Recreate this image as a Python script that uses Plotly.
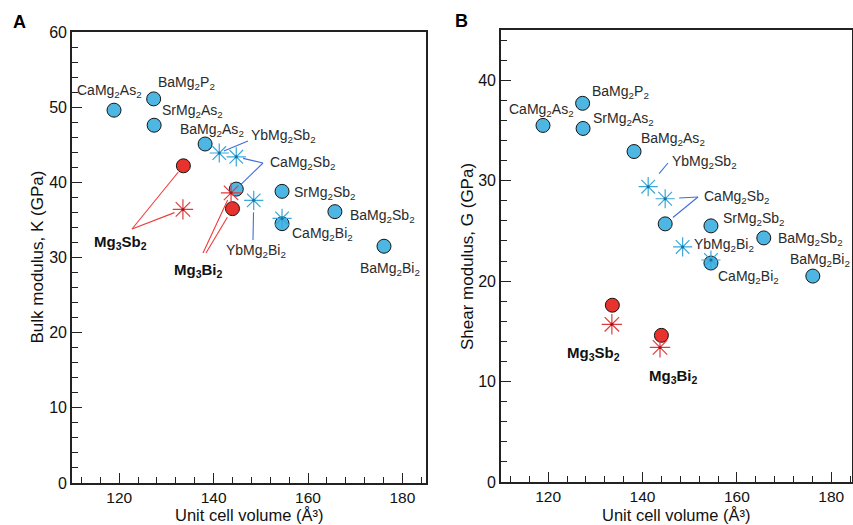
import re
import plotly.graph_objects as go

W, H = 853, 525

# ---------------- data ----------------
circ_names = ["CaMg2As2", "BaMg2P2", "SrMg2As2", "BaMg2As2", "CaMg2Sb2",
              "SrMg2Sb2", "BaMg2Sb2", "CaMg2Bi2", "BaMg2Bi2"]
circ_vol = [118.9, 127.3, 127.4, 138.2, 144.8, 154.5, 165.7, 154.5, 176.1]
circ_K = [49.6, 51.1, 47.6, 45.1, 39.1, 38.8, 36.1, 34.5, 31.5]
circ_G = [35.5, 37.7, 35.2, 32.9, 25.7, 25.5, 24.3, 21.8, 20.5]

star_names = ["YbMg2Sb2", "CaMg2Sb2", "YbMg2Bi2", "CaMg2Bi2"]
star_vol = [141.2, 144.8, 148.5, 154.5]
star_K = [43.9, 43.4, 37.6, 35.2]
star_G = [29.4, 28.2, 23.4, 22.1]

mg_names = ["Mg3Sb2", "Mg3Bi2"]
mg_circ_vol = [133.6, 144.0]
mg_circ_K = [42.2, 36.5]
mg_circ_G = [17.6, 14.6]
mg_star_vol = [133.5, 143.7]
mg_star_K = [36.4, 38.6]
mg_star_G = [15.7, 13.4]

x_tickvals = [120, 140, 160, 180]
K_tickvals = [0, 10, 20, 30, 40, 50, 60]
G_tickvals = [0, 10, 20, 30, 40]

# ---------------- layout geometry (pixels) ----------------
PAN = {
    "A": dict(x0=72, x1=426, y0=32, y1=483, xr=(110, 185), yr=(0, 60)),
    "B": dict(x0=501, x1=852, y0=30, y1=482, xr=(110, 184.4), yr=(0, 45)),
}

BLUE = "#4DB6E2"
RED = "#E8322E"
STAR_BLUE = "#39A8DC"
STAR_RED = "#E03A3A"
LEAD_BLUE = "#3F6FD8"
LEAD_RED = "#F03A3A"
FONT = "Liberation Sans, Arial, sans-serif"


def to_px(p, x, y):
    g = PAN[p]
    px = g["x0"] + (x - g["xr"][0]) / (g["xr"][1] - g["xr"][0]) * (g["x1"] - g["x0"])
    py = g["y1"] - (y - g["yr"][0]) / (g["yr"][1] - g["yr"][0]) * (g["y1"] - g["y0"])
    return px, py


def pap(px, py):
    return px / W, 1 - py / H


def fmt(name):
    return re.sub(r"(\d)", r"<sub>\1</sub>", name)


fig = go.Figure()

panels = [("A", "x", "y", circ_K, star_K, mg_circ_K, mg_star_K),
          ("B", "x2", "y2", circ_G, star_G, mg_circ_G, mg_star_G)]

for p, xa, ya, cY, sY, mcY, msY in panels:
    fig.add_trace(go.Scatter(x=circ_vol, y=cY, mode="markers", xaxis=xa, yaxis=ya,
                             marker=dict(size=14, color=BLUE, line=dict(color="#151515", width=1)),
                             showlegend=False, hoverinfo="skip"))
    fig.add_trace(go.Scatter(x=mg_circ_vol, y=mcY, mode="markers", xaxis=xa, yaxis=ya,
                             marker=dict(size=14, color=RED, line=dict(color="#151515", width=1)),
                             showlegend=False, hoverinfo="skip"))
    fig.add_trace(go.Scatter(x=star_vol, y=sY, mode="markers", xaxis=xa, yaxis=ya,
                             marker=dict(size=16, symbol="asterisk-open", color=STAR_BLUE,
                                         line=dict(color=STAR_BLUE, width=1.2)),
                             showlegend=False, hoverinfo="skip"))
    fig.add_trace(go.Scatter(x=mg_star_vol, y=msY, mode="markers", xaxis=xa, yaxis=ya,
                             marker=dict(size=17, symbol="asterisk-open", color=STAR_RED,
                                         line=dict(color=STAR_RED, width=1.2)),
                             showlegend=False, hoverinfo="skip"))
    fig.add_trace(go.Scatter(x=star_vol, y=sY, mode="markers", xaxis=xa, yaxis=ya,
                             marker=dict(size=3, color="#1E6F9A"),
                             showlegend=False, hoverinfo="skip"))
    fig.add_trace(go.Scatter(x=mg_star_vol, y=msY, mode="markers", xaxis=xa, yaxis=ya,
                             marker=dict(size=3, color="#A01818"),
                             showlegend=False, hoverinfo="skip"))

# ---------------- labels (pixel centres) ----------------
LABELS = {
    "A": {"CaMg2As2": (110, 89), "BaMg2P2": (186, 81), "SrMg2As2": (192, 109),
          "BaMg2As2": (212, 128), "YbMg2Sb2": (283, 134), "CaMg2Sb2": (302, 161),
          "SrMg2Sb2": (324, 191), "BaMg2Sb2": (382, 214), "CaMg2Bi2": (322, 232),
          "YbMg2Bi2": (256, 249), "BaMg2Bi2": (390, 267),
          "Mg3Sb2": (120, 240), "Mg3Bi2": (198, 268)},
    "B": {"CaMg2As2": (541, 108), "BaMg2P2": (620, 90), "SrMg2As2": (623, 117),
          "BaMg2As2": (673, 137), "YbMg2Sb2": (704, 160), "CaMg2Sb2": (736, 195),
          "SrMg2Sb2": (753, 217), "BaMg2Sb2": (810, 237), "YbMg2Bi2": (724, 243),
          "CaMg2Bi2": (748, 275), "BaMg2Bi2": (820, 258),
          "Mg3Sb2": (593, 351), "Mg3Bi2": (673, 374)},
}

annotations = []
for p, labs in LABELS.items():
    for name, (px, py) in labs.items():
        bold = name.startswith("Mg3")
        x, y = pap(px, py + 2)
        annotations.append(dict(
            xref="paper", yref="paper", x=x, y=y, xanchor="center", yanchor="middle",
            text=("<b>%s</b>" % fmt(name)) if bold else fmt(name), showarrow=False,
            font=dict(family=FONT, size=15 if bold else 14, color="#111" if bold else "#2a2a2a")))

# panel letters
for letter, (px, py) in {"A": (19, 22), "B": (461, 21)}.items():
    x, y = pap(px, py)
    annotations.append(dict(xref="paper", yref="paper", x=x, y=y, xanchor="center", yanchor="middle",
                            text="<b>%s</b>" % letter, showarrow=False,
                            font=dict(family=FONT, size=18, color="black")))

# axis titles
for p, ytitle, tx in [("A", "Bulk modulus, K (GPa)", 37), ("B", "Shear modulus, G (GPa)", 467)]:
    g = PAN[p]
    x, y = pap(tx, (g["y0"] + g["y1"]) / 2)
    annotations.append(dict(xref="paper", yref="paper", x=x, y=y, xanchor="center", yanchor="middle",
                            text=ytitle, textangle=-90, showarrow=False,
                            font=dict(family=FONT, size=17, color="#111")))
    x, y = pap((g["x0"] + g["x1"]) / 2, 515)
    annotations.append(dict(xref="paper", yref="paper", x=x, y=y, xanchor="center", yanchor="middle",
                            text="Unit cell volume (Å³)", showarrow=False,
                            font=dict(family=FONT, size=16.5, color="#111")))

# ---------------- leader lines ----------------
def pt(p, kind, name):
    if kind == "c":
        i = circ_names.index(name)
        return to_px(p, circ_vol[i], (circ_K if p == "A" else circ_G)[i])
    if kind == "s":
        i = star_names.index(name)
        return to_px(p, star_vol[i], (star_K if p == "A" else star_G)[i])
    if kind == "mc":
        i = mg_names.index(name)
        return to_px(p, mg_circ_vol[i], (mg_circ_K if p == "A" else mg_circ_G)[i])
    i = mg_names.index(name)
    return to_px(p, mg_star_vol[i], (mg_star_K if p == "A" else mg_star_G)[i])


LEADERS = [
    # panel, start pixel, target kind, target name, shorten px, colour
    ("A", (248, 141), "s", "YbMg2Sb2", 5, LEAD_BLUE),
    ("A", (263, 163), "s", "CaMg2Sb2", 7, LEAD_BLUE),
    ("A", (263, 163), "c", "CaMg2Sb2", 7, LEAD_BLUE),
    ("A", (132, 229), "mc", "Mg3Sb2", 8, LEAD_RED),
    ("A", (132, 229), "ms", "Mg3Sb2", 9, LEAD_RED),
    ("A", (203, 253), "ms", "Mg3Bi2", 8, LEAD_RED),
    ("A", (206, 253), "mc", "Mg3Bi2", 10, LEAD_RED),
    ("A", (253, 240), "s", "YbMg2Bi2", 12, LEAD_BLUE),
    ("B", (668, 163), "s", "YbMg2Sb2", 17, LEAD_BLUE),
    ("B", (698, 197), "s", "CaMg2Sb2", 14, LEAD_BLUE),
    ("B", (698, 197), "c", "CaMg2Sb2", 10, LEAD_BLUE),
]

shapes = []
for p, (sx, sy), kind, name, sh, col in LEADERS:
    tx, ty = pt(p, kind, name)
    dx, dy = tx - sx, ty - sy
    d = (dx * dx + dy * dy) ** 0.5
    ex, ey = tx - dx / d * sh, ty - dy / d * sh
    x0, y0 = pap(sx, sy)
    x1, y1 = pap(ex, ey)
    shapes.append(dict(type="line", xref="paper", yref="paper", x0=x0, y0=y0, x1=x1, y1=y1,
                       line=dict(color=col, width=1.1)))


def xaxis(p):
    g = PAN[p]
    return dict(domain=[g["x0"] / W, g["x1"] / W], range=list(g["xr"]), automargin=False,
                tickvals=x_tickvals, ticks="inside", ticklen=10, tickwidth=1.2, tickcolor="#222",
                minor=dict(ticks="inside", dtick=4, tick0=0, ticklen=6, tickwidth=1.2, tickcolor="#222"),
                showline=True, linecolor="#222", linewidth=1.6, mirror=True,
                showgrid=False, zeroline=False,
                tickfont=dict(family=FONT, size=15.5, color="#111"))


def yaxis(p, tv):
    g = PAN[p]
    return dict(domain=[1 - g["y1"] / H, 1 - g["y0"] / H], range=list(g["yr"]), automargin=False,
                tickvals=tv, ticks="inside", ticklen=10, tickwidth=1.2, tickcolor="#222",
                minor=dict(ticks="inside", dtick=2, tick0=0, ticklen=6, tickwidth=1.2, tickcolor="#222"),
                showline=True, linecolor="#222", linewidth=1.6, mirror=True,
                showgrid=False, zeroline=False,
                tickfont=dict(family=FONT, size=16, color="#111"))


xa1 = xaxis("A"); xa1["anchor"] = "y"
ya1 = yaxis("A", K_tickvals); ya1["anchor"] = "x"
xa2 = xaxis("B"); xa2["anchor"] = "y2"
ya2 = yaxis("B", G_tickvals); ya2["anchor"] = "x2"

fig.update_layout(
    width=W, height=H, margin=dict(l=0, r=0, t=0, b=0, pad=0, autoexpand=False),
    paper_bgcolor="white", plot_bgcolor="white",
    xaxis=xa1, yaxis=ya1, xaxis2=xa2, yaxis2=ya2,
    annotations=annotations, shapes=shapes, showlegend=False,
    font=dict(family=FONT),
)

fig.write_html("out.html")
